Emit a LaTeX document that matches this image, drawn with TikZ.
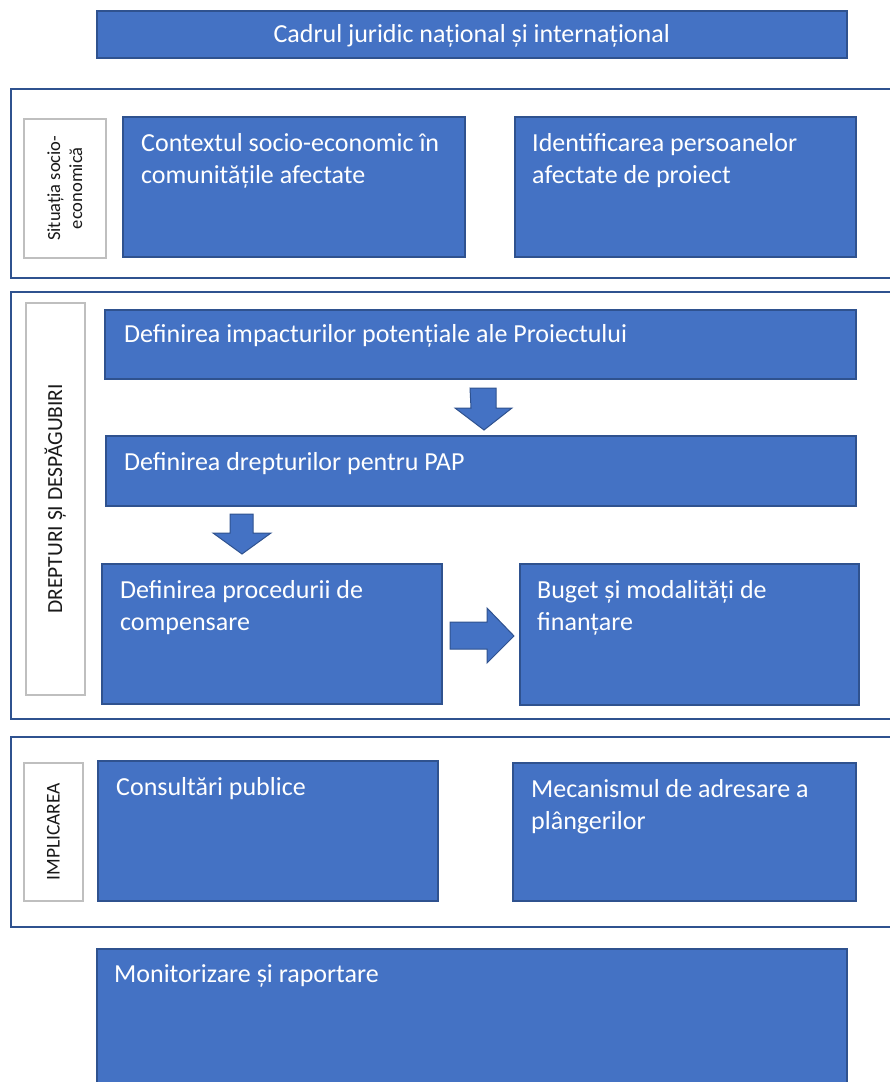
\documentclass[tikz,border=0pt]{standalone}
\usepackage{fontspec}
\setmainfont{Carlito}
\usetikzlibrary{positioning,calc}
\definecolor{boxblue}{HTML}{4472C4}
\definecolor{edgeblue}{HTML}{2F528F}
\definecolor{lblgray}{HTML}{BFBFBF}

\begin{document}
\begin{tikzpicture}[
  x=1pt, y=-1pt,
  font=\fontsize{26}{32.5}\selectfont,
  bluebox/.style={draw=edgeblue, fill=boxblue, line width=1.5pt, anchor=north west, inner sep=0pt},
  boxtext/.style={anchor=north west, inner sep=0pt, text=white, align=left},
  groupframe/.style={draw=edgeblue, line width=2pt, anchor=north west, inner sep=0pt},
  sidelabel/.style={draw=lblgray, fill=white, line width=1.5pt, anchor=north west, inner sep=0pt},
  sidetext/.style={rotate=90, inner sep=0pt, align=center, text=black!90},
  blockarrow/.style={draw=edgeblue, fill=boxblue, line width=1pt, line join=miter}
]
  \useasboundingbox (0,0) rectangle (890,1082);
  \clip (0,0) rectangle (890,1082);

  % title
  \node[bluebox, minimum width=750, minimum height=47, text=white] (cadru) at (96,10) {};
  \node[text=white, inner sep=0pt] (cadrutxt) at ([yshift=-2pt]cadru.center) {Cadrul juridic național și internațional};

  % group frames
  \node[groupframe, minimum width=900, minimum height=189] (frsoc) at (10,88) {};
  \node[groupframe, minimum width=900, minimum height=427] (frdrept) at (10,291) {};
  \node[groupframe, minimum width=900, minimum height=190] (frimpl) at (10,736) {};

  % side labels
  \node[sidelabel, minimum width=82, minimum height=139] (lblsoc) at (23,118) {};
  \node[sidetext, font=\fontsize{18.5}{22}\selectfont] (lblsoctxt) at (lblsoc.center) {Situația socio-\\economică};
  \node[sidelabel, minimum width=59, minimum height=392] (lbldrept) at (25,302) {};
  \node[sidetext, font=\fontsize{21.5}{24}\selectfont] (lbldrepttxt) at (lbldrept.center) {DREPTURI ȘI DESPĂGUBIRI};
  \node[sidelabel, minimum width=59, minimum height=138] (lblimpl) at (23,762) {};
  \node[sidetext, font=\fontsize{19.5}{22}\selectfont] (lblimpltxt) at (lblimpl.center) {IMPLICAREA};

  % socio-economic
  \node[bluebox, minimum width=342, minimum height=140] (context) at (122,116) {};
  \node[boxtext] (contexttxt) at ([shift={(19,17)}]context.north west) {Contextul socio-economic în\\comunitățile afectate};
  \node[bluebox, minimum width=341, minimum height=140] (identif) at (514,116) {};
  \node[boxtext] (identiftxt) at ([shift={(18,17)}]identif.north west) {Identificarea persoanelor\\afectate de proiect};

  % rights and compensation
  \node[bluebox, minimum width=751, minimum height=69] (impact) at (104,309) {};
  \node[boxtext] (impacttxt) at ([shift={(20,15)}]impact.north west) {Definirea impacturilor potențiale ale Proiectului};
  \node[bluebox, minimum width=750, minimum height=70] (drept) at (105,435) {};
  \node[boxtext] (dreapttxt) at ([shift={(19,17)}]drept.north west) {Definirea drepturilor pentru PAP};
  \node[bluebox, minimum width=340, minimum height=140] (proced) at (101,563) {};
  \node[boxtext] (procedtxt) at ([shift={(19,17)}]proced.north west) {Definirea procedurii de\\compensare};
  \node[bluebox, minimum width=339, minimum height=141] (buget) at (519,563) {};
  \node[boxtext] (bugettxt) at ([shift={(18,17)}]buget.north west) {Buget și modalități de\\finanțare};

  \coordinate (arrone) at (483,388);
  \coordinate (arrtwo) at (242,514);
  \coordinate (arrthree) at (450,637);
  \draw[blockarrow] (arrone) ++(-13,0) -- ++(26,0) -- ++(0,20) -- ++(16,0) -- ++(-28,22) -- ++(-29,-22) -- ++(16,0) -- cycle;
  \draw[blockarrow] (arrtwo) ++(-12,0) -- ++(23,0) -- ++(0,19) -- ++(18,0) -- ++(-29,21) -- ++(-29,-21) -- ++(17,0) -- cycle;
  \draw[blockarrow] (arrthree) ++(0,-15) -- ++(37,0) -- ++(0,-14) -- ++(27,28) -- ++(-27,27) -- ++(0,-14) -- ++(-37,0) -- cycle;

  % involvement
  \node[bluebox, minimum width=340, minimum height=140] (consult) at (97,760) {};
  \node[boxtext] (consulttxt) at ([shift={(19,17)}]consult.north west) {Consultări publice};
  \node[bluebox, minimum width=343, minimum height=138] (mecan) at (512,762) {};
  \node[boxtext] (mecantxt) at ([shift={(19,17)}]mecan.north west) {Mecanismul de adresare a\\plângerilor};

  % monitoring
  \node[bluebox, minimum width=750, minimum height=160] (monit) at (96,948) {};
  \node[boxtext] (monittxt) at ([shift={(18,16)}]monit.north west) {Monitorizare și raportare};
\end{tikzpicture}
\end{document}
